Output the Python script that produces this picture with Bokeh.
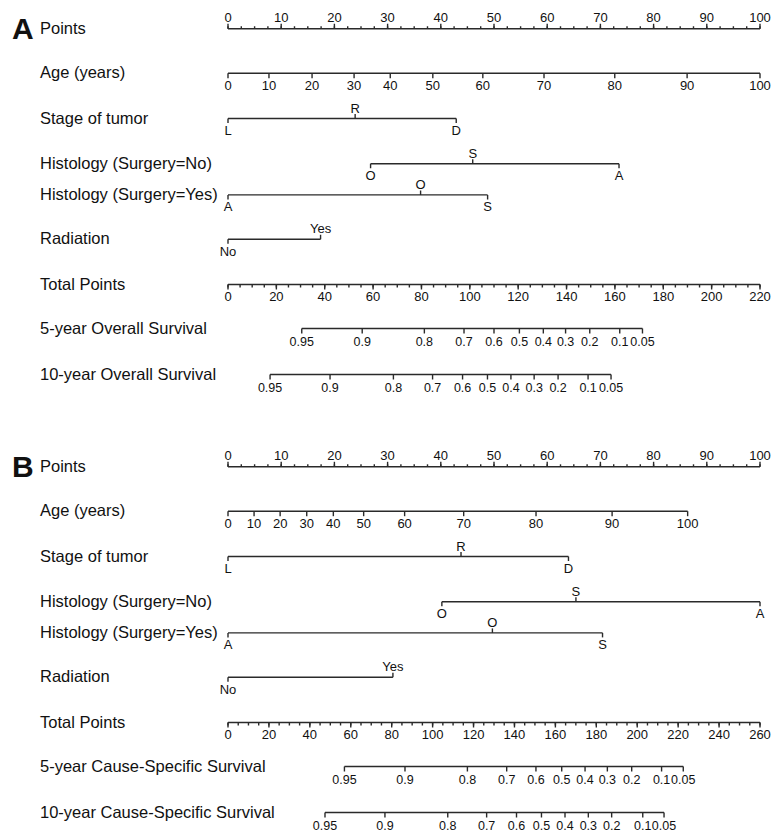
from bokeh.plotting import figure
from bokeh.models import Range1d
from bokeh.core.properties import value
from bokeh.embed import file_html
from bokeh.resources import INLINE

# ---------------- data (points scale 0-100) ----------------
point_ticks = [0, 10, 20, 30, 40, 50, 60, 70, 80, 90, 100]

age_values = ["0", "10", "20", "30", "40", "50", "60", "70", "80", "90", "100"]
a_age_points = [0, 7.7, 15.8, 23.7, 30.5, 38.5, 47.9, 59.4, 72.7, 86.3, 100]
b_age_points = [0, 4.9, 9.8, 14.8, 19.8, 25.5, 33.2, 44.3, 57.9, 72.2, 86.4]

stage_levels = ["L", "R", "D"]
a_stage_points = [0, 23.9, 42.9]
b_stage_points = [0, 43.8, 64.0]

hist_no_levels = ["O", "S", "A"]
a_hist_no_points = [26.8, 46.0, 73.5]
b_hist_no_points = [40.2, 65.4, 100]

hist_yes_levels = ["A", "O", "S"]
a_hist_yes_points = [0, 36.2, 48.8]
b_hist_yes_points = [0, 49.7, 70.4]

radiation_levels = ["No", "Yes"]
a_radiation_points = [0, 17.4]
b_radiation_points = [0, 31.0]

a_total_max = 220
b_total_max = 260
total_label_step = 20
total_minor_step = 5

surv_labels = ["0.95", "0.9", "0.8", "0.7", "0.6", "0.5", "0.4", "0.3", "0.2", "0.1", "0.05"]
a_os5_total = [30.5, 55.5, 81.2, 97.6, 110.0, 120.5, 130.4, 139.6, 149.6, 162.0, 171.4]
a_os10_total = [17.4, 42.2, 68.4, 84.6, 97.0, 107.3, 117.0, 126.6, 136.5, 148.9, 158.4]
b_css5_total = [56.9, 86.5, 117.0, 136.2, 150.5, 163.1, 174.5, 185.4, 197.3, 211.9, 222.5]
b_css10_total = [47.4, 76.7, 107.4, 126.4, 141.0, 153.2, 164.7, 176.1, 187.5, 202.7, 213.1]

a_row_labels = ["Points", "Age (years)", "Stage of tumor", "Histology (Surgery=No)",
                "Histology (Surgery=Yes)", "Radiation", "Total Points",
                "5-year Overall Survival", "10-year Overall Survival"]
b_row_labels = ["Points", "Age (years)", "Stage of tumor", "Histology (Surgery=No)",
                "Histology (Surgery=Yes)", "Radiation", "Total Points",
                "5-year Cause-Specific Survival", "10-year Cause-Specific Survival"]

# ---------------- layout (page pixel coordinates) ----------------
W, H = 772, 832
PX0 = 227.5      # page x of 0 points
PXPP = 5.32      # pixels per point


def X(px):
    return (px - PX0) / PXPP


p = figure(width=W, height=H, x_range=Range1d(X(0), X(W)),
           y_range=Range1d(H, 0), output_backend="svg", toolbar_location=None,
           x_axis_location=None, y_axis_location=None, min_border=0)
p.grid.visible = False
p.outline_line_color = None

LINE = "#2a2a2a"
LW = 1.4
FONT = value("Liberation Sans")
TXT = "#111111"


def seg(xs0, ys0, xs1, ys1):
    p.segment(x0=xs0, y0=ys0, x1=xs1, y1=ys1, line_color=LINE, line_width=LW)


def txt(xs, ys, labels, size, align="center", style="normal"):
    p.text(x=xs, y=ys, text=labels, text_font=FONT, text_font_size=size,
           text_align=align, text_baseline="middle", text_color=TXT,
           text_font_style=style)


def points_axis(y):
    seg([0], [y], [100], [y])
    minor = [i * 2.5 for i in range(41)]
    seg(minor, [y] * len(minor), minor, [y - 2.5] * len(minor))
    seg(point_ticks, [y] * len(point_ticks), point_ticks, [y - 5] * len(point_ticks))
    txt(point_ticks, [y - 11] * len(point_ticks), [str(t) for t in point_ticks], "13px")


def cont_axis(y, xs, labels):
    seg([xs[0]], [y], [xs[-1]], [y])
    seg(xs, [y] * len(xs), xs, [y + 5] * len(xs))
    txt(xs, [y + 12.5] * len(xs), labels, "13px")


def cat_axis(y, xs, labels):
    seg([min(xs)], [y], [max(xs)], [y])
    below = [i for i in range(len(xs)) if i % 2 == 0]
    above = [i for i in range(len(xs)) if i % 2 == 1]
    bx = [xs[i] for i in below]
    ax = [xs[i] for i in above]
    seg(bx, [y] * len(bx), bx, [y + 4.5] * len(bx))
    seg(ax, [y] * len(ax), ax, [y - 4.5] * len(ax))
    txt(bx, [y + 12] * len(bx), [labels[i] for i in below], "13px")
    txt(ax, [y - 10.5] * len(ax), [labels[i] for i in above], "13px")


def total_axis(y, tmax):
    k = 100.0 / tmax
    seg([0], [y], [100], [y])
    minor = [t * k for t in range(0, tmax + 1, total_minor_step)]
    seg(minor, [y] * len(minor), minor, [y + 3] * len(minor))
    major_t = list(range(0, tmax + 1, total_label_step))
    major = [t * k for t in major_t]
    seg(major, [y] * len(major), major, [y + 5] * len(major))
    txt(major, [y + 12] * len(major), [str(t) for t in major_t], "13px")


def surv_axis(y, totals, tmax):
    k = 100.0 / tmax
    xs = [t * k for t in totals]
    seg([xs[0]], [y], [xs[-1]], [y])
    seg(xs, [y] * len(xs), xs, [y + 5] * len(xs))
    txt(xs, [y + 12.5] * len(xs), surv_labels, "12.5px")


def panel(dy, letter, labels, age_pts, stage_pts, hno_pts, hyes_pts, rad_pts,
          tmax, s5, s10):
    rows = [28.3, 72.7, 118, 163.3, 194.4, 238.7, 284, 328, 374]
    rows = [r + dy for r in rows]
    txt([X(11.5)], [rows[0]], [letter], "30px", align="left", style="bold")
    txt([X(39.5)] * len(labels), [r - 1 for r in rows], labels, "16.5px", align="left")
    points_axis(rows[0])
    cont_axis(rows[1], age_pts, age_values)
    cat_axis(rows[2], stage_pts, stage_levels)
    cat_axis(rows[3], hno_pts, hist_no_levels)
    cat_axis(rows[4], hyes_pts, hist_yes_levels)
    cat_axis(rows[5], rad_pts, radiation_levels)
    total_axis(rows[6], tmax)
    surv_axis(rows[7], s5, tmax)
    surv_axis(rows[8], s10, tmax)


panel(0, "A", a_row_labels, a_age_points, a_stage_points, a_hist_no_points,
      a_hist_yes_points, a_radiation_points, a_total_max, a_os5_total, a_os10_total)
panel(438, "B", b_row_labels, b_age_points, b_stage_points, b_hist_no_points,
      b_hist_yes_points, b_radiation_points, b_total_max, b_css5_total, b_css10_total)

open("out.html", "w").write(file_html(p, INLINE))
